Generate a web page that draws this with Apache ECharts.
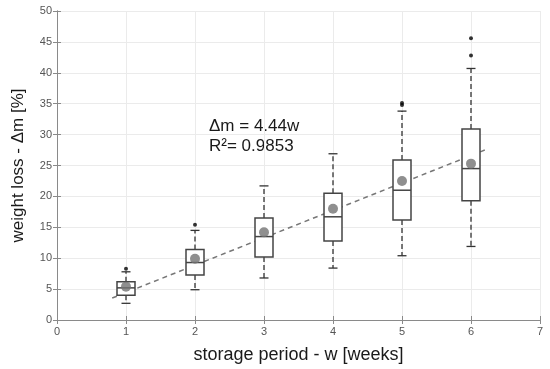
<!DOCTYPE html>
<html><head><meta charset="utf-8">
<script src="https://cdn.jsdelivr.net/npm/echarts@6/dist/echarts.min.js"></script>
<style>html,body{margin:0;padding:0;background:#fff}#c{width:550px;height:369px}</style>
</head><body><div id="c"></div>
<script>
// weeks
var weeks = [1, 2, 3, 4, 5, 6];
// [lower whisker, Q1, median, Q3, upper whisker]
var lowW   = [2.7, 4.9, 6.8, 8.4, 10.4, 11.9];
var q1     = [4.0, 7.3, 10.2, 12.8, 16.2, 19.3];
var median = [5.2, 9.3, 13.5, 16.7, 21.0, 24.5];
var q3     = [6.2, 11.4, 16.5, 20.5, 25.9, 30.9];
var highW  = [7.8, 14.5, 21.7, 26.9, 33.8, 40.7];
var means  = [5.4, 9.9, 14.2, 18.0, 22.5, 25.3];
// outliers [week, value]
var outliers = [[1, 8.3], [2, 15.4], [5, 34.8], [5, 35.1], [6, 42.8], [6, 45.6]];
// regression line endpoints (Δm = 4.44w)
var regX = [0.8, 6.2];
var regY = [3.55, 27.5];
var xTicks = [0, 1, 2, 3, 4, 5, 6, 7];
var yTicks = [0, 5, 10, 15, 20, 25, 30, 35, 40, 45, 50];

var boxData = weeks.map(function (w, i) { return [w, lowW[i], q1[i], median[i], q3[i], highW[i]]; });
var meanData = weeks.map(function (w, i) { return [w, means[i]]; });
var regData = regX.map(function (x, i) { return [x, regY[i]]; });

var chart = echarts.init(document.getElementById('c'));
var axisCol = '#8a8a8a';
var font = 'Arial, "Liberation Sans", sans-serif';

function renderBox(params, api) {
  var x = api.value(0);
  var pL = api.coord([x, api.value(1)]);
  var p1 = api.coord([x, api.value(2)]);
  var pM = api.coord([x, api.value(3)]);
  var p3 = api.coord([x, api.value(4)]);
  var pH = api.coord([x, api.value(5)]);
  var hw = 9, cw = 4.5;
  var cx = pM[0];
  var wStyle = { stroke: '#333', lineWidth: 1.3, lineDash: [5, 3] };
  var sStyle = { stroke: '#333', lineWidth: 1.3 };
  var bStyle = { stroke: '#444', lineWidth: 1.5, fill: '#fff' };
  return {
    type: 'group',
    children: [
      { type: 'line', shape: { x1: cx, y1: p3[1], x2: cx, y2: pH[1] }, style: wStyle },
      { type: 'line', shape: { x1: cx, y1: p1[1], x2: cx, y2: pL[1] }, style: wStyle },
      { type: 'line', shape: { x1: cx - cw, y1: pH[1], x2: cx + cw, y2: pH[1] }, style: sStyle },
      { type: 'line', shape: { x1: cx - cw, y1: pL[1], x2: cx + cw, y2: pL[1] }, style: sStyle },
      { type: 'rect', shape: { x: cx - hw, y: p3[1], width: 2 * hw, height: p1[1] - p3[1] }, style: bStyle },
      { type: 'line', shape: { x1: cx - hw, y1: pM[1], x2: cx + hw, y2: pM[1] }, style: { stroke: '#444', lineWidth: 1.5 } }
    ]
  };
}

chart.setOption({
  animation: false,
  backgroundColor: '#fff',
  grid: { left: 57, right: 10, top: 11, bottom: 46 },
  xAxis: [{
    type: 'value', min: 0, max: 7, interval: 1,
    name: 'storage period - w [weeks]', nameLocation: 'middle', nameGap: 26,
    nameTextStyle: { fontSize: 18, color: '#1a1a1a', fontFamily: font },
    axisLine: { show: true, lineStyle: { color: axisCol } },
    axisTick: { show: true, inside: true, length: 4, lineStyle: { color: axisCol } },
    axisLabel: { color: '#555', fontSize: 11, fontFamily: font, margin: 6 },
    splitLine: { show: true, lineStyle: { color: '#ebebeb' } }
  }, {
    type: 'value', position: 'top', min: 0, max: 7, interval: 1,
    axisLine: { show: true, lineStyle: { color: axisCol } },
    axisTick: { show: true, inside: true, length: 4, lineStyle: { color: axisCol } },
    axisLabel: { show: false }, splitLine: { show: false }
  }],
  yAxis: [{
    type: 'value', min: 0, max: 50, interval: 5,
    name: 'weight loss - Δm [%]', nameLocation: 'middle', nameGap: 30,
    nameTextStyle: { fontSize: 17, color: '#1a1a1a', fontFamily: font },
    axisLine: { show: true, lineStyle: { color: axisCol } },
    axisTick: { show: true, inside: true, length: 4, lineStyle: { color: axisCol } },
    axisLabel: { color: '#555', fontSize: 11, fontFamily: font, margin: 5 },
    splitLine: { show: true, lineStyle: { color: '#ebebeb' } }
  }, {
    type: 'value', position: 'right', min: 0, max: 50, interval: 5,
    axisLine: { show: true, lineStyle: { color: axisCol } },
    axisTick: { show: true, inside: true, length: 4, lineStyle: { color: axisCol } },
    axisLabel: { show: false }, splitLine: { show: false }
  }],
  series: [{
    type: 'line', data: regData, symbol: 'none', z: 2,
    lineStyle: { color: '#777', width: 1.5, type: [5, 4] }
  }, {
    type: 'custom', renderItem: renderBox, data: boxData, z: 3,
    encode: { x: 0, y: [1, 2, 3, 4, 5] }
  }, {
    type: 'scatter', data: meanData, symbolSize: 10, z: 4,
    itemStyle: { color: '#737373' }
  }, {
    type: 'scatter', data: outliers, symbolSize: 4, z: 4,
    itemStyle: { color: '#000' }
  }],
  graphic: [{
    type: 'text', left: 209, top: 118,
    style: { text: 'Δm = 4.44w', fontSize: 17, fontFamily: font, fill: '#1a1a1a' }
  }, {
    type: 'text', left: 209, top: 138,
    style: { text: 'R²= 0.9853', fontSize: 17, fontFamily: font, fill: '#1a1a1a' }
  }]
});
</script>
</body></html>
